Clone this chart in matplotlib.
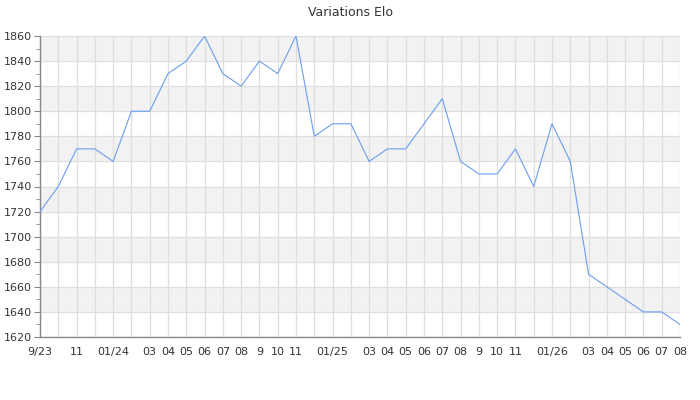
import matplotlib
matplotlib.use("Agg")
import matplotlib.pyplot as plt
from matplotlib.ticker import MultipleLocator

months = ["9/23", "10/23", "11/23", "12/23", "01/24", "02/24", "03/24", "04/24", "05/24", "06/24",
          "07/24", "08/24", "09/24", "10/24", "11/24", "12/24", "01/25", "02/25", "03/25", "04/25",
          "05/25", "06/25", "07/25", "08/25", "09/25", "10/25", "11/25", "12/25", "01/26", "02/26",
          "03/26", "04/26", "05/26", "06/26", "07/26", "08/26"]
elo = [1720, 1740, 1770, 1770, 1760, 1800, 1800, 1830, 1840, 1860,
       1830, 1820, 1840, 1830, 1860, 1780, 1790, 1790, 1760, 1770,
       1770, 1790, 1810, 1760, 1750, 1750, 1770, 1740, 1790, 1760,
       1670, 1660, 1650, 1640, 1640, 1630]
tick_labels = ["9/23", "", "11", "", "01/24", "", "03", "04", "05", "06",
               "07", "08", "9", "10", "11", "", "01/25", "", "03", "04",
               "05", "06", "07", "08", "9", "10", "11", "", "01/26", "",
               "03", "04", "05", "06", "07", "08"]
title = "Variations Elo"

fig = plt.figure(figsize=(7, 4), dpi=100)
ax = fig.add_axes([40/700, 63/400, 640/700, 301/400])
x = list(range(len(months)))
ax.set_xlim(0, len(months) - 1)
ax.set_ylim(1620, 1860)

for lo in range(1640, 1860, 40):
    ax.axhspan(lo, lo + 20, color="#f2f2f2", zorder=0, lw=0)

ax.yaxis.set_major_locator(MultipleLocator(20))
ax.yaxis.set_minor_locator(MultipleLocator(10))
ax.grid(True, which="major", color="#dedede", lw=0.9, zorder=1)
ax.set_axisbelow(True)

ax.plot(x, elo, color="#6a9ef0", lw=0.8, zorder=3)

ax.set_xticks(x)
ax.set_xticklabels(tick_labels)
ax.tick_params(axis="x", length=0, labelsize=8, colors="#333333", pad=7)
ax.tick_params(axis="y", which="major", length=4, labelsize=8, colors="#333333", pad=2)
ax.tick_params(axis="y", which="minor", length=3, color="#888888")
ax.tick_params(axis="y", which="major", color="#888888")

for s in ["top", "right"]:
    ax.spines[s].set_visible(False)
for s in ["left", "bottom"]:
    ax.spines[s].set_color("#888888")
    ax.spines[s].set_linewidth(1)

fig.text(350/700, 1 - 12/400, title, ha="center", va="center", fontsize=9, color="#333333")
fig.savefig("out.png", dpi=100, facecolor="white")
